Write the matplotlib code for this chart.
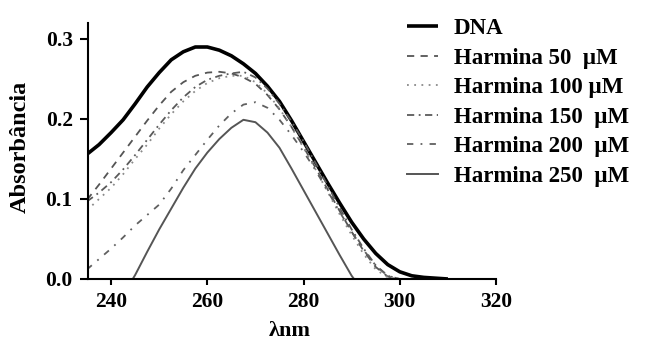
import matplotlib
matplotlib.use("Agg")
import matplotlib.pyplot as plt

plt.rcParams['font.family'] = ['Liberation Serif', 'DejaVu Serif']
plt.rcParams['font.weight'] = 'bold'

# Absorption spectra (wavelength in nm, absorbance)
wl_dna = [235, 237.5, 240, 242.5, 245, 247.5, 250, 252.5, 255, 257.5, 260, 262.5,
          265, 267.5, 270, 272.5, 275, 277.5, 280, 282.5, 285, 287.5, 290, 292.5,
          295, 297.5, 300, 302.5, 305, 307.5, 310]
abs_dna = [0.156, 0.168, 0.183, 0.199, 0.219, 0.240, 0.258, 0.274, 0.284, 0.290, 0.290, 0.286,
           0.279, 0.269, 0.257, 0.241, 0.222, 0.198, 0.172, 0.146, 0.120, 0.095, 0.071, 0.050,
           0.032, 0.018, 0.009, 0.004, 0.002, 0.001, 0.0]

wl_h = [235, 237.5, 240, 242.5, 245, 247.5, 250, 252.5, 255, 257.5, 260, 262.5,
        265, 267.5, 270, 272.5, 275, 277.5, 280, 282.5, 285, 287.5, 290, 292.5,
        295, 297.5, 300]
abs_h50 = [0.099, 0.118, 0.138, 0.158, 0.178, 0.198, 0.217, 0.234, 0.246, 0.254, 0.258, 0.259,
           0.257, 0.252, 0.244, 0.230, 0.212, 0.190, 0.165, 0.139, 0.112, 0.085, 0.059, 0.035,
           0.015, 0.003, 0.0]
abs_h100 = [0.086, 0.100, 0.114, 0.131, 0.150, 0.168, 0.188, 0.206, 0.222, 0.235, 0.245, 0.251,
            0.254, 0.254, 0.246, 0.232, 0.213, 0.190, 0.164, 0.137, 0.109, 0.081, 0.055, 0.031,
            0.012, 0.002, 0.0]
abs_h150 = [0.097, 0.108, 0.121, 0.137, 0.155, 0.174, 0.193, 0.211, 0.227, 0.240, 0.249, 0.254,
            0.257, 0.259, 0.252, 0.238, 0.219, 0.197, 0.172, 0.145, 0.117, 0.089, 0.062, 0.038,
            0.017, 0.004, 0.0]
abs_h200 = [0.012, 0.025, 0.038, 0.052, 0.067, 0.080, 0.093, 0.113, 0.136, 0.155, 0.174, 0.192,
            0.207, 0.218, 0.221, 0.214, 0.199, 0.180, 0.159, 0.136, 0.110, 0.084, 0.059, 0.036,
            0.017, 0.004, 0.0]

wl_h250 = [244.5, 245, 247.5, 250, 252.5, 255, 257.5, 260, 262.5, 265, 267.5, 270,
           272.5, 275, 277.5, 280, 282.5, 285, 287.5, 290, 290.5]
abs_h250 = [0.0, 0.005, 0.034, 0.062, 0.088, 0.114, 0.138, 0.158, 0.175, 0.189, 0.199, 0.196,
            0.183, 0.164, 0.138, 0.111, 0.084, 0.057, 0.030, 0.004, 0.0]

labels = ["DNA", "Harmina 50  µM", "Harmina 100 µM", "Harmina 150  µM",
          "Harmina 200  µM", "Harmina 250  µM"]
x_ticks = [240, 260, 280, 300, 320]
y_ticks = [0.0, 0.1, 0.2, 0.3]

fig = plt.figure(figsize=(6.55, 3.42), dpi=100)
ax = fig.add_axes([88 / 655, 1 - 279 / 342, (496 - 88) / 655, (279 - 23) / 342])

ax.plot(wl_dna, abs_dna, color='black', lw=2.6, label=labels[0], solid_capstyle='butt')
ax.plot(wl_h, abs_h50, color='#555555', lw=1.3, dashes=(4, 3.5), label=labels[1])
ax.plot(wl_h, abs_h100, color='#8a8a8a', lw=1.3, dashes=(1, 3), label=labels[2])
ax.plot(wl_h, abs_h150, color='#5a5a5a', lw=1.3, dashes=(4, 2.5, 1, 2.5), label=labels[3])
ax.plot(wl_h, abs_h200, color='#606060', lw=1.3, dashes=(3.5, 4, 1, 4), label=labels[4])
ax.plot(wl_h250, abs_h250, color='#555555', lw=1.4, label=labels[5])

ax.set_xlim(235.2, 320)
ax.set_ylim(0, 0.32)
ax.set_xticks(x_ticks)
ax.set_xticklabels([str(t) for t in x_ticks])
ax.set_yticks(y_ticks)
ax.set_yticklabels([f"{t:.1f}" for t in y_ticks])

for s in ['top', 'right']:
    ax.spines[s].set_visible(False)
for s in ['left', 'bottom']:
    ax.spines[s].set_linewidth(1.5)
ax.tick_params(axis='y', direction='out', length=6, width=1.5, pad=5, labelsize=15.5)
ax.tick_params(axis='x', direction='out', length=4.5, width=1.5, pad=5, labelsize=15.5)

fig.text(20 / 655, 1 - 147 / 342, "Absorbância", rotation=90, ha='center', va='center',
         fontsize=17.5, fontweight='bold')
fig.text(290 / 655, 1 / 342, "λnm", ha='center', va='bottom', fontsize=16, fontweight='bold')

fig.legend(loc='upper left', bbox_to_anchor=(407 / 655, 1 - 18 / 342), frameon=False,
           fontsize=16.5, handlelength=1.35, handletextpad=0.7, labelspacing=0.37,
           borderpad=0, borderaxespad=0)

fig.savefig("out.png", dpi=100)
